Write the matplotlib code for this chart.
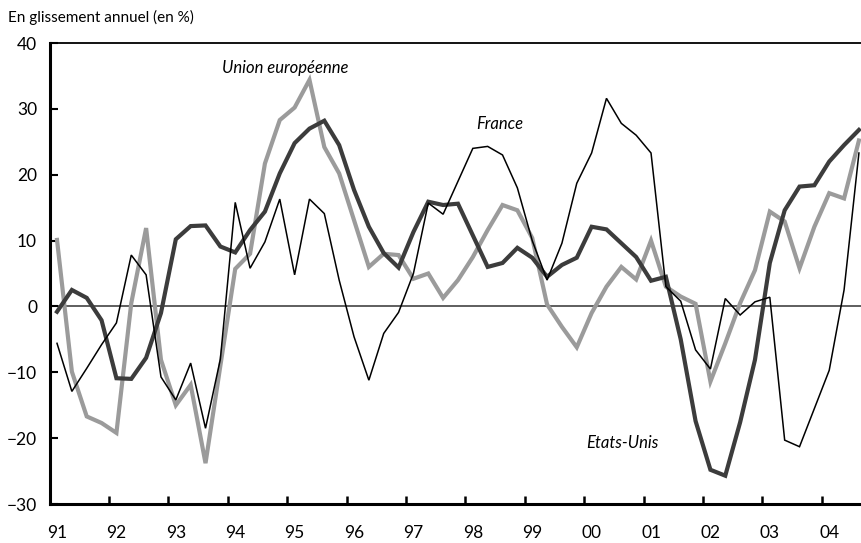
' Quarterly year-on-year growth: France, Etats-Unis, Union europeenne (1991-2004) '
import numpy as np
import matplotlib
matplotlib.use('Agg')
import matplotlib.pyplot as plt

# quarters 1991Q1 .. 2004Q3
years = list(range(1991, 2005))
year_labels = ['91', '92', '93', '94', '95', '96', '97', '98', '99',
               '00', '01', '02', '03', '04']

france = [-5.6, -12.9, -9.4, -5.8, -2.5, 7.8, 4.8, -10.7,
          -14.2, -8.6, -18.5, -8.0, 15.8, 5.8, 9.8, 16.3,
          4.8, 16.3, 14.1, 4.0, -4.6, -11.2, -4.1, -0.9,
          5.0, 15.7, 14.0, 19.0, 24.0, 24.3, 23.0, 18.0,
          10.0, 4.0, 9.6, 18.7, 23.3, 31.6, 27.8, 26.0,
          23.3, 3.0, 0.8, -6.6, -9.5, 1.2, -1.3, 0.7,
          1.4, -20.3, -21.3, -15.5, -9.7, 2.5, 23.3]

etats_unis = [-0.8, 2.5, 1.3, -2.1, -10.9, -11.0, -7.8, -1.0,
              10.2, 12.2, 12.3, 9.1, 8.2, 11.6, 14.4, 20.2,
              24.8, 27.0, 28.2, 24.5, 17.7, 12.1, 8.1, 5.9,
              11.3, 15.9, 15.4, 15.6, 10.8, 6.0, 6.6, 8.9,
              7.4, 4.5, 6.3, 7.4, 12.1, 11.7, 9.6, 7.5,
              3.9, 4.5, -5.0, -17.4, -24.8, -25.7, -17.6, -8.1,
              6.6, 14.6, 18.2, 18.4, 22.0, 24.5, 26.8]

union_eur = [10.1, -9.9, -16.7, -17.7, -19.2, 0.5, 11.9, -8.1,
             -15.0, -11.9, -23.8, -9.0, 5.7, 8.0, 21.7, 28.3,
             30.2, 34.4, 24.2, 20.2, 13.1, 6.0, 8.0, 7.8,
             4.2, 5.0, 1.3, 4.0, 7.5, 11.6, 15.4, 14.6,
             10.4, 0.3, -3.1, -6.2, -1.0, 3.0, 6.0, 4.1,
             10.0, 3.0, 1.5, 0.4, -11.4, -5.6, 0.5, 5.5,
             14.4, 12.9, 5.8, 12.1, 17.2, 16.4, 25.2]

t = 1991 + (np.arange(len(france)) + 0.5) / 4

plt.rcParams['font.family'] = ['Lato', 'DejaVu Sans']

fig = plt.figure(figsize=(8.61, 5.43), dpi=100)
ax = fig.add_axes([0.0576, 0.0718, 0.9424, 0.849])

ax.axhline(0, color='#333333', lw=1.1, zorder=1)
ax.plot(t, union_eur, color='#9b9b9b', lw=3.0, solid_joinstyle='miter', zorder=2)
ax.plot(t, etats_unis, color='#3c3c3c', lw=3.0, solid_joinstyle='miter', zorder=3)
ax.plot(t, france, color='black', lw=1.1, solid_joinstyle='miter', zorder=4)

ax.set_xlim(1991, 2004.66)
ax.set_ylim(-30, 40)
ax.set_yticks(range(-30, 41, 10))

# ticks on year boundaries, labels under first quarter
ax.set_xticks(years)
ax.set_xticklabels([])
ax.set_xticks([y + 0.125 for y in years], minor=True)
ax.set_xticklabels(year_labels, minor=True)
ax.tick_params(axis='x', which='major', direction='in', length=6, width=1.8)
ax.tick_params(axis='x', which='minor', length=0, pad=15, labelsize=12.5)
ax.tick_params(axis='y', direction='in', length=6, width=1.5, pad=9, labelsize=12.5)

ax.spines['right'].set_visible(False)
ax.spines['left'].set_linewidth(2.2)
ax.spines['bottom'].set_linewidth(2.2)
ax.spines['top'].set_linewidth(1.3)

ax.text(1994.96, 36.2, 'Union européenne', style='italic', fontsize=12,
        ha='center', va='center')
ax.text(1998.58, 27.7, 'France', style='italic', fontsize=12,
        ha='center', va='center')
ax.text(2000.65, -20.7, 'Etats-Unis', style='italic', fontsize=12,
        ha='center', va='center')

fig.text(0.009, 0.968, 'En glissement annuel (en %)', fontsize=11,
         ha='left', va='center')

fig.savefig('out.png', dpi=100)
